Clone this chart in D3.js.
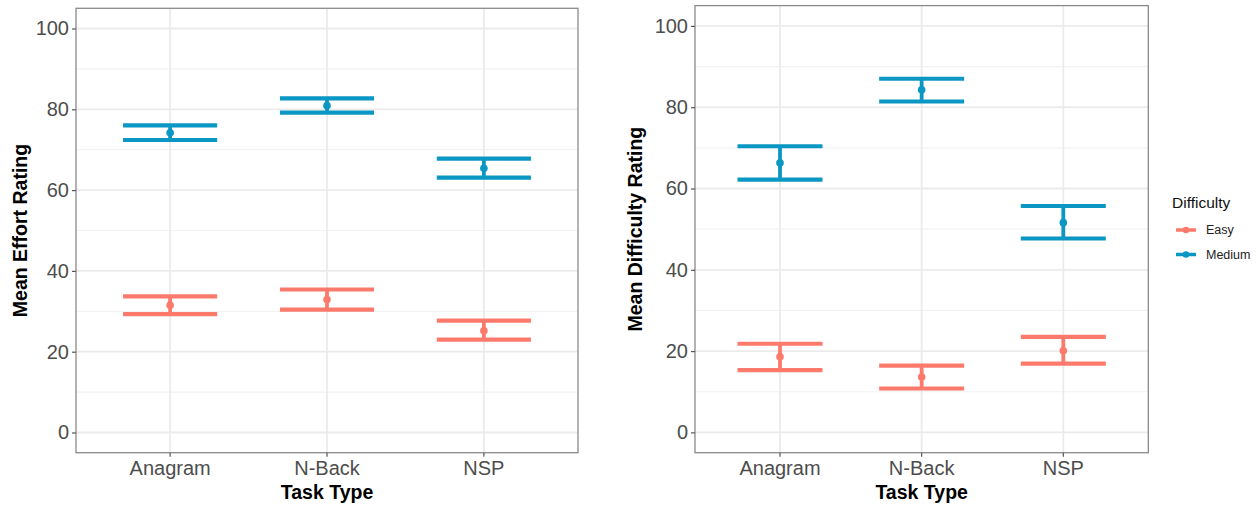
<!DOCTYPE html>
<html>
<head>
<meta charset="utf-8">
<script src="https://cdn.jsdelivr.net/npm/d3@7"></script>
<style>
  body { margin: 0; background: #fff; }
  svg { display: block; font-family: "Liberation Sans", Arial, sans-serif; }
</style>
</head>
<body>
<svg width="1260" height="507"></svg>
<script>
var svg = d3.select("svg");

// categories + series
var tasks = ["Anagram", "N-Back", "NSP"];
var levels = ["Easy", "Medium"];
var colors = ["#FC7A6B", "#0B97C4"];

// effort panel (mean, lower, upper)
var effortEasy = [31.5, 32.9, 25.2];
var effortEasyLo = [29.3, 30.4, 23.0];
var effortEasyHi = [33.7, 35.4, 27.7];
var effortMed = [74.2, 80.9, 65.4];
var effortMedLo = [72.4, 79.2, 63.1];
var effortMedHi = [76.0, 82.7, 67.8];

// difficulty panel
var diffEasy = [18.6, 13.6, 20.1];
var diffEasyLo = [15.3, 10.8, 16.9];
var diffEasyHi = [21.8, 16.4, 23.5];
var diffMed = [66.3, 84.3, 51.6];
var diffMedLo = [62.2, 81.4, 47.7];
var diffMedHi = [70.4, 87.0, 55.7];

var yTicks = [0, 20, 40, 60, 80, 100];
var yMinor = [10, 30, 50, 70, 90];

function rows(m, lo, hi, lvl) {
  return tasks.map(function(t, i) {
    return {task: t, mean: m[i], lo: lo[i], hi: hi[i], level: lvl};
  });
}

var color = d3.scaleOrdinal().domain(levels).range(colors);

function panel(cfg) {
  var x = d3.scaleBand().domain(tasks)
      .range([cfg.left, cfg.right]).paddingOuter(0.1).paddingInner(0);
  // ggplot discrete expand: 0.6 each side
  var step = (cfg.right - cfg.left) / 3.2;
  var xc = function(t) { return cfg.left + (0.6 + tasks.indexOf(t)) * step; };
  var y = d3.scaleLinear().domain([-5, 105]).range([cfg.bottom, cfg.top]);

  var g = svg.append("g");

  // minor grid
  g.selectAll(".minor").data(yMinor).enter().append("line")
    .attr("x1", cfg.left).attr("x2", cfg.right)
    .attr("y1", function(d) { return y(d); }).attr("y2", function(d) { return y(d); })
    .attr("stroke", "#F2F2F2").attr("stroke-width", 1.2);
  // major grid
  g.selectAll(".major").data(yTicks).enter().append("line")
    .attr("x1", cfg.left).attr("x2", cfg.right)
    .attr("y1", function(d) { return y(d); }).attr("y2", function(d) { return y(d); })
    .attr("stroke", "#EBEBEB").attr("stroke-width", 1.8);
  g.selectAll(".vgrid").data(tasks).enter().append("line")
    .attr("x1", xc).attr("x2", xc)
    .attr("y1", cfg.top).attr("y2", cfg.bottom)
    .attr("stroke", "#EBEBEB").attr("stroke-width", 1.8);

  var data = cfg.data;
  var hw = step * 0.3;

  // vertical whiskers
  g.selectAll(".whisk").data(data).enter().append("line")
    .attr("x1", function(d) { return xc(d.task); })
    .attr("x2", function(d) { return xc(d.task); })
    .attr("y1", function(d) { return y(d.lo); })
    .attr("y2", function(d) { return y(d.hi); })
    .attr("stroke", function(d) { return color(d.level); })
    .attr("stroke-width", 3.8);
  // caps
  ["lo", "hi"].forEach(function(k) {
    g.selectAll(".cap" + k).data(data).enter().append("line")
      .attr("x1", function(d) { return xc(d.task) - hw; })
      .attr("x2", function(d) { return xc(d.task) + hw; })
      .attr("y1", function(d) { return y(d[k]); })
      .attr("y2", function(d) { return y(d[k]); })
      .attr("stroke", function(d) { return color(d.level); })
      .attr("stroke-width", 4.2);
  });
  // points
  g.selectAll(".pt").data(data).enter().append("circle")
    .attr("cx", function(d) { return xc(d.task); })
    .attr("cy", function(d) { return y(d.mean); })
    .attr("r", 3.8)
    .attr("fill", function(d) { return color(d.level); });

  // border
  g.append("rect")
    .attr("x", cfg.left).attr("y", cfg.top)
    .attr("width", cfg.right - cfg.left).attr("height", cfg.bottom - cfg.top)
    .attr("fill", "none").attr("stroke", "#8A8A8A").attr("stroke-width", 1.3);

  // y axis
  var ya = svg.append("g").attr("transform", "translate(" + cfg.left + ",0)")
    .call(d3.axisLeft(y).tickValues(yTicks).tickSize(4).tickPadding(3));
  ya.select(".domain").remove();
  ya.selectAll(".tick line").attr("stroke", "#555").attr("stroke-width", 1.2);
  ya.selectAll(".tick text").attr("fill", "#4D4D4D").attr("font-size", 20)
    .attr("font-family", "Liberation Sans, Arial, sans-serif");

  // x axis
  var xa = svg.append("g").attr("transform", "translate(0," + cfg.bottom + ")")
    .call(d3.axisBottom(x).tickSize(4).tickPadding(4));
  xa.select(".domain").remove();
  xa.selectAll(".tick").attr("transform", function(d) { return "translate(" + xc(d) + ",0)"; });
  xa.selectAll(".tick line").attr("stroke", "#555").attr("stroke-width", 1.2);
  xa.selectAll(".tick text").attr("fill", "#4D4D4D").attr("font-size", 20)
    .attr("font-family", "Liberation Sans, Arial, sans-serif");

  svg.append("text")
    .attr("x", (cfg.left + cfg.right) / 2).attr("y", 499)
    .attr("text-anchor", "middle").attr("font-weight", "bold").attr("font-size", 19.5)
    .text("Task Type");

  svg.append("text")
    .attr("transform", "translate(" + cfg.titleX + "," + ((cfg.top + cfg.bottom) / 2) + ") rotate(-90)")
    .attr("text-anchor", "middle").attr("font-weight", "bold").attr("font-size", 19.5)
    .text(cfg.ytitle);
}

panel({
  left: 76, right: 578, top: 8.3, bottom: 452.7, titleX: 27,
  ytitle: "Mean Effort Rating",
  data: rows(effortEasy, effortEasyLo, effortEasyHi, "Easy")
    .concat(rows(effortMed, effortMedLo, effortMedHi, "Medium"))
});

panel({
  left: 695, right: 1148.3, top: 5.6, bottom: 452.7, titleX: 642,
  ytitle: "Mean Difficulty Rating",
  data: rows(diffEasy, diffEasyLo, diffEasyHi, "Easy")
    .concat(rows(diffMed, diffMedLo, diffMedHi, "Medium"))
});

// legend
var lg = svg.append("g").attr("transform", "translate(1172,0)");
lg.append("text").attr("x", 0).attr("y", 208).attr("font-size", 15.5).attr("fill", "#111")
  .text("Difficulty");
var items = lg.selectAll(".item").data(levels).enter().append("g")
  .attr("transform", function(d, i) { return "translate(0," + (230 + i * 24.5) + ")"; });
items.append("line").attr("x1", 4).attr("x2", 24).attr("y1", 0).attr("y2", 0)
  .attr("stroke", function(d) { return color(d); }).attr("stroke-width", 3.5);
items.append("circle").attr("cx", 14).attr("cy", 0).attr("r", 3.3)
  .attr("fill", function(d) { return color(d); });
items.append("text").attr("x", 34).attr("y", 0).attr("dy", "0.35em")
  .attr("font-size", 12.5).attr("fill", "#222")
  .text(function(d) { return d; });
</script>
</body>
</html>
